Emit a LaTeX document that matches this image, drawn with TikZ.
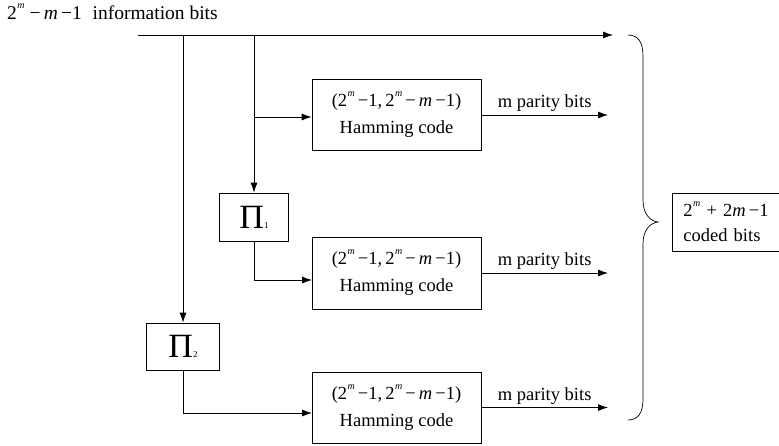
\documentclass[tikz,border=0pt]{standalone}
\usepackage{fontspec}
\setmainfont{Liberation Serif}
\usetikzlibrary{arrows.meta}
\newcommand{\pw}{2\raisebox{0.55em}{\fontsize{10}{10}\selectfont\kern0.05em\textit{m}}}
\newcommand{\hamtxt}{(\pw\,−1,\,\pw\,−\,\textit{m}\,−1)\\Hamming code}
\newcommand{\pisym}[1]{Π\raisebox{0pt}{\fontsize{9}{9}\selectfont #1}}
\begin{document}
\begin{tikzpicture}[x=1pt,y=-1pt,
  ln/.style={line width=0.8pt},
  arr/.style={ln,-{Latex[length=10pt,width=7pt]}},
  codebox/.style={draw,line width=0.8pt,minimum width=169pt,minimum height=71pt,
    align=center,inner sep=0pt,font=\fontsize{18.5}{27}\selectfont},
  pibox/.style={draw,line width=0.8pt,minimum width=69pt,minimum height=48pt,
    inner sep=0pt,font=\fontsize{34}{34}\selectfont},
  lbl/.style={font=\fontsize{18.5}{20}\selectfont,inner sep=3pt},
  resbox/.style={draw,line width=0.8pt,minimum height=58pt,text width=104pt,
    align=left,inner xsep=11pt,font=\fontsize{18.5}{25}\selectfont}
]
\useasboundingbox (0,0) rectangle (779,445);

% title
\node[lbl,anchor=base west,inner sep=0pt,font=\fontsize{19.5}{22}\selectfont] (title) at (7,19)
  {\pw\ −\,\textit{m}\,−1\hspace{0.55em}information bits};

% boxes
\node[codebox] (b1) at (396.5,115) {\hamtxt};
\node[codebox,minimum height=72pt] (b2) at (396.5,273) {\hamtxt};
\node[codebox] (b3) at (396.5,407.5) {\hamtxt};
\node[pibox] (p1) at (254,217) {\pisym{1}};
\node[pibox,minimum width=73pt,minimum height=47pt] (p2) at (183,346.5) {\pisym{2}};
\node[resbox,anchor=west] (res) at (672,222) {\pw\ + 2\textit{m}\,−1\\coded bits};

% coordinates
\coordinate (in) at (138,35);
\coordinate (out0) at (613,35);
\coordinate (s2) at (183,35);
\coordinate (s1) at (254,35);
\coordinate (j1) at (254,117);
\coordinate (k2) at (312,280);
\coordinate (k3) at (312,413);
\coordinate (oe) at (608,0);

% main line and branches
\draw[arr] (in) -- (out0);
\draw[arr] (s1) -- (p1.north);
\draw[arr] (s2) -- (p2.north);
\draw[arr] (j1) -- (j1 -| b1.west);
\draw[arr] (p1.south) |- (k2);
\draw[arr] (p2.south) |- (k3);

% outputs
\draw[arr] (b1.east) -- (b1.east -| oe) node[lbl,midway,above] (l1) {m parity bits};
\draw[arr] (b2.east) -- (b2.east -| oe) node[lbl,midway,above] (l2) {m parity bits};
\draw[arr] (b3.east) -- (b3.east -| oe) node[lbl,midway,above] (l3) {m parity bits};

% brace
\draw[line width=0.7pt] (628,35) .. controls (638,35) and (643,42) .. (643,56)
  -- (643,200) .. controls (643,214) and (650,221) .. (658,222)
  .. controls (650,223) and (643,230) .. (643,244)
  -- (643,399) .. controls (643,413) and (638,420) .. (628,420);
\end{tikzpicture}
\end{document}
